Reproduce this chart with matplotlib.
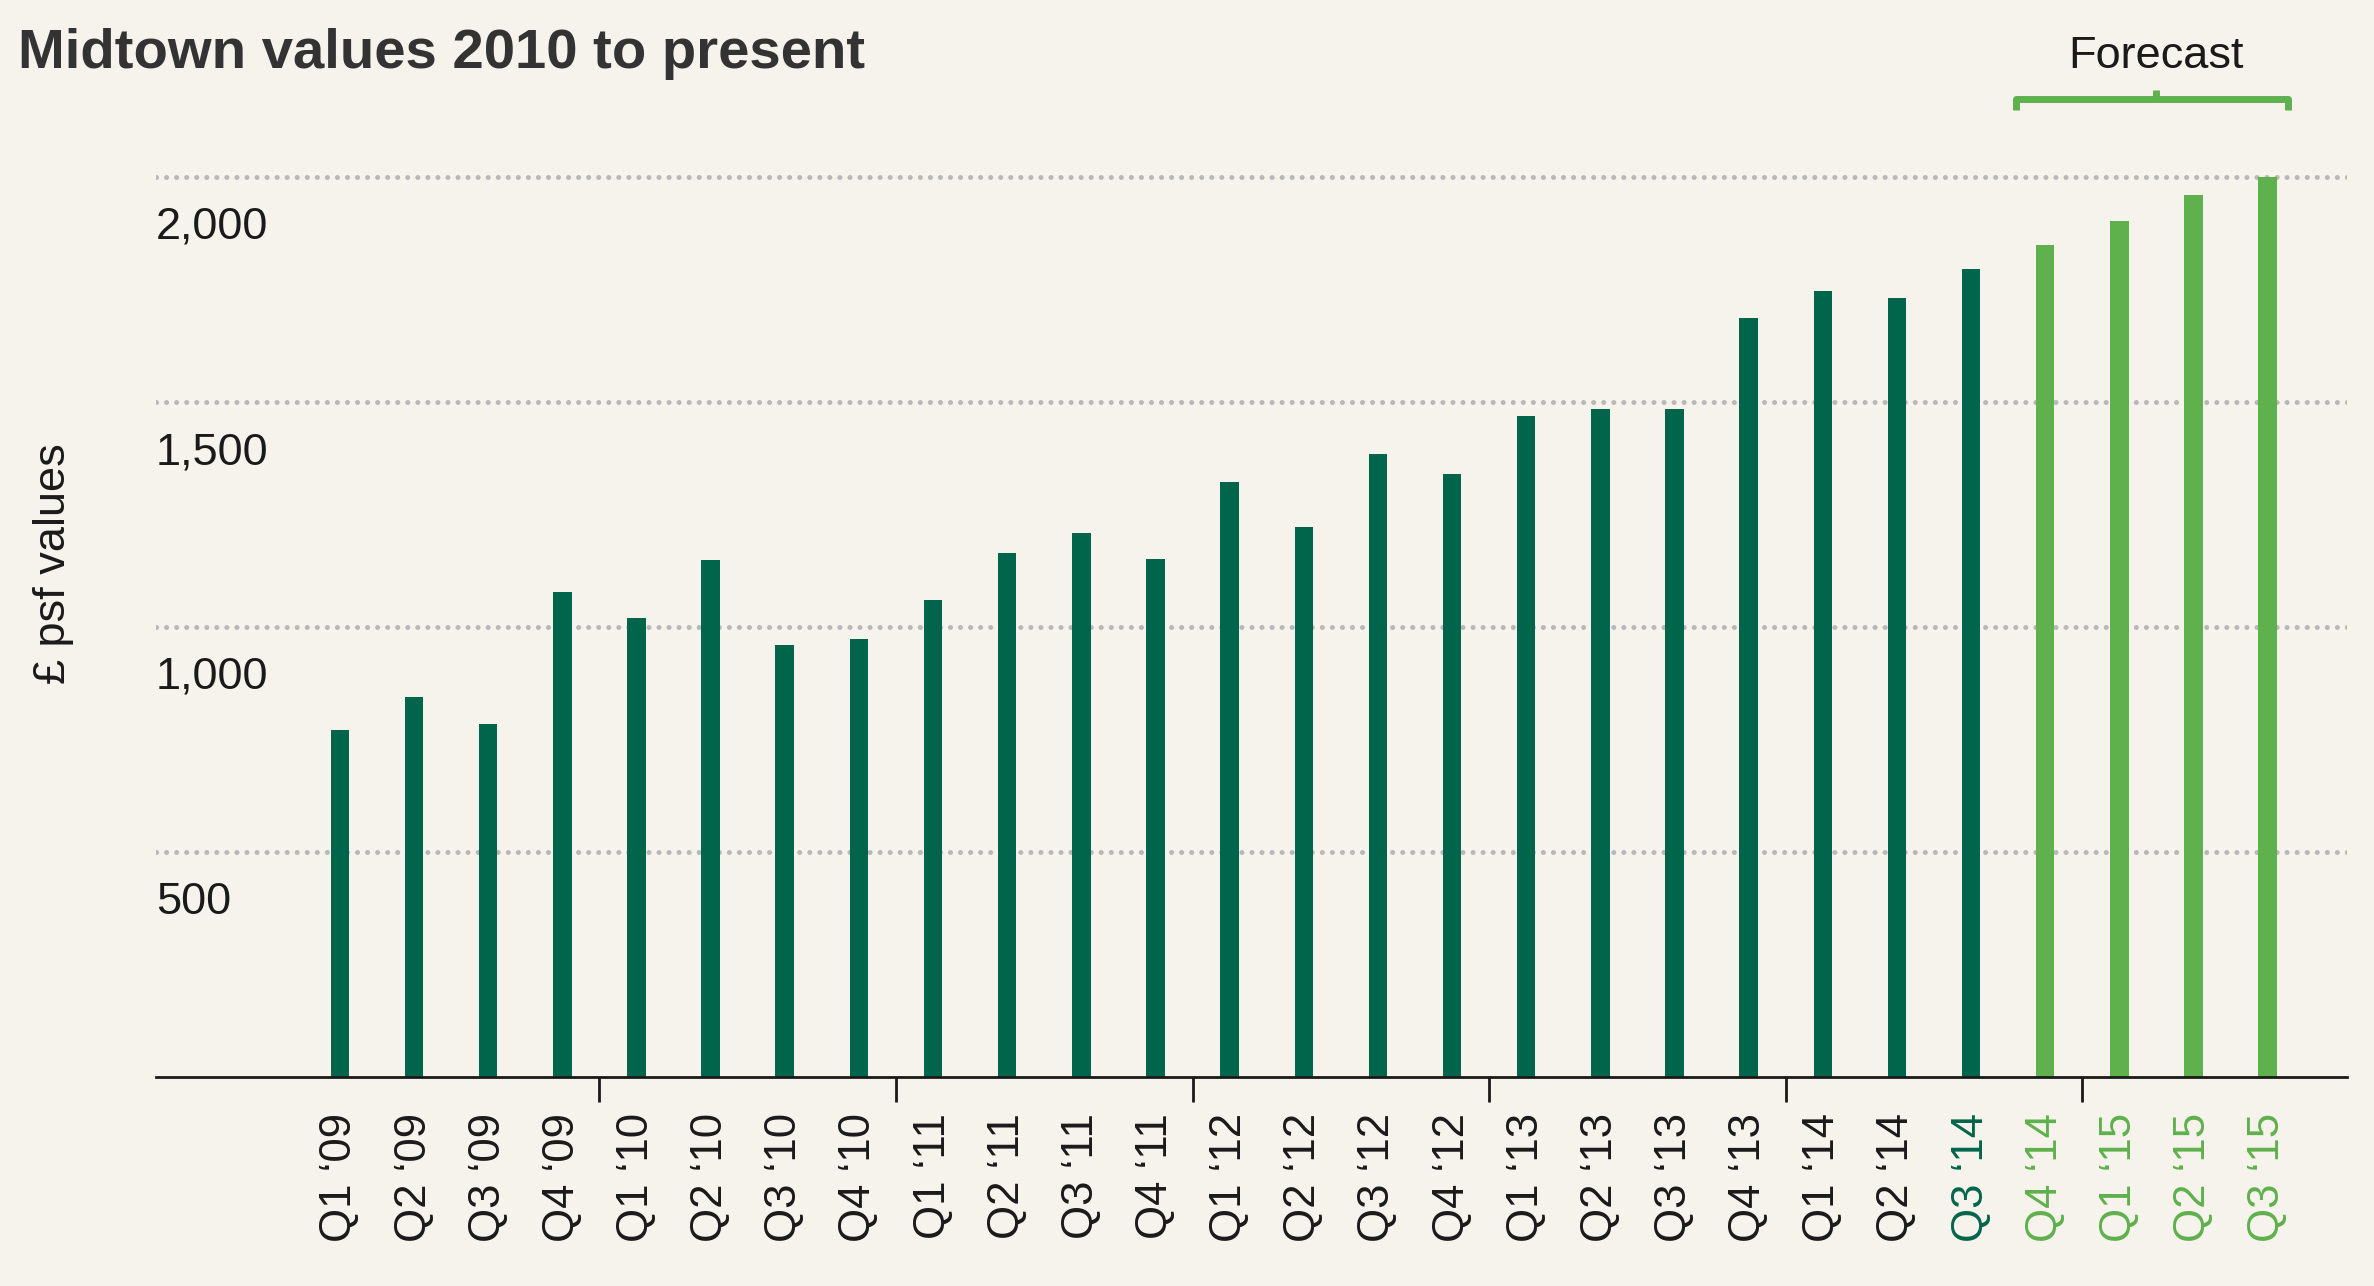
import matplotlib.pyplot as plt
import matplotlib.transforms as mtransforms
import numpy as np

plt.rcParams['font.family'] = ['Liberation Sans', 'DejaVu Sans']

# quarterly values, £ psf
quarters = ["Q1 ‘09", "Q2 ‘09", "Q3 ‘09", "Q4 ‘09",
            "Q1 ‘10", "Q2 ‘10", "Q3 ‘10", "Q4 ‘10",
            "Q1 ‘11", "Q2 ‘11", "Q3 ‘11", "Q4 ‘11",
            "Q1 ‘12", "Q2 ‘12", "Q3 ‘12", "Q4 ‘12",
            "Q1 ‘13", "Q2 ‘13", "Q3 ‘13", "Q4 ‘13",
            "Q1 ‘14", "Q2 ‘14", "Q3 ‘14",
            "Q4 ‘14", "Q1 ‘15", "Q2 ‘15", "Q3 ‘15"]
values = [771, 845, 785, 1077,
          1020, 1148, 960, 973,
          1061, 1165, 1209, 1152,
          1323, 1222, 1384, 1340,
          1468, 1485, 1485, 1687,
          1747, 1731, 1795,
          1848, 1902, 1960, 2000]
n_forecast = 4
yticks = [500, 1000, 1500, 2000]
ytick_labels = ["500", "1,000", "1,500", "2,000"]

BG = "#F6F2EC"
DARK = "#00654A"
LIGHT = "#5FB14D"
INK = "#1a1a1a"

fig = plt.figure(figsize=(23.74, 12.86), dpi=100, facecolor=BG)
ax = fig.add_axes([156 / 2374, 1 - 1077 / 1286, (2347 - 156) / 2374, (1077 - 132) / 1286])
ax.set_facecolor(BG)

x = np.arange(len(values))
n_actual = len(values) - n_forecast
colors = [DARK] * n_actual + [LIGHT] * n_forecast
ax.bar(x, values, width=0.25, color=colors, zorder=3)

ax.set_xlim(-2.48, 27.07)
ax.set_ylim(0, 2100)

# dotted gridlines
for v in yticks:
    ax.axhline(v, color="#B8B8B8", linewidth=3.6, linestyle=(0, (0.01, 2.0)),
               dash_capstyle="round", zorder=1)

# y labels sit under their gridlines, inside the plot
ylab_tr = mtransforms.blended_transform_factory(ax.transAxes, ax.transData) + \
    mtransforms.ScaledTranslation(0, -0.62, fig.dpi_scale_trans)
for v, lab in zip(yticks, ytick_labels):
    ax.text(0, v, lab, transform=ylab_tr, ha="left", va="baseline",
            fontsize=32.5, color=INK)
ax.set_yticks([])

for s in ["top", "right", "left"]:
    ax.spines[s].set_visible(False)
ax.spines["bottom"].set_color(INK)
ax.spines["bottom"].set_linewidth(2)
ax.spines["bottom"].set_zorder(4)

# quarter labels on bars, year ticks between groups
ax.set_xticks(x)
ax.set_xticklabels(quarters, rotation=90, fontsize=31.5)
ax.tick_params(axis="x", which="major", length=0, pad=26)
ax.set_xticks(np.arange(3.5, 24, 4), minor=True)
ax.tick_params(axis="x", which="minor", length=18, width=2, color=INK)
tick_colors = [INK] * (n_actual - 1) + [DARK] + [LIGHT] * n_forecast
for lab, c in zip(ax.get_xticklabels(), tick_colors):
    lab.set_color(c)

# forecast bracket
br_tr = mtransforms.blended_transform_factory(ax.transData, fig.transFigure)
f0, f1 = n_actual - 0.4, len(values) - 0.72
fmid = (n_actual + len(values) - 1) / 2
yb = 1 - 99 / 1286
drop = 11 / 1286
ax.plot([f0, f0, f1, f1], [yb - drop, yb, yb, yb - drop], transform=br_tr,
        color=LIGHT, linewidth=5, solid_capstyle="butt", clip_on=False)
ax.plot([fmid, fmid], [yb, yb + 9 / 1286], transform=br_tr,
        color=LIGHT, linewidth=5, solid_capstyle="butt", clip_on=False)
ax.text(fmid, 1 - 68 / 1286, "Forecast", transform=br_tr, ha="center",
        va="baseline", fontsize=32.5, color=INK)

fig.text(18 / 2374, 1 - 68 / 1286, "Midtown values 2010 to present",
         fontsize=40.5, fontweight="bold", color="#333333", ha="left", va="baseline")
fig.text(53 / 2374, 1 - 564 / 1286, "£ psf values", rotation=90,
         fontsize=32.5, color=INK, ha="center", va="center")

fig.savefig("out.png", dpi=100, facecolor=BG)
